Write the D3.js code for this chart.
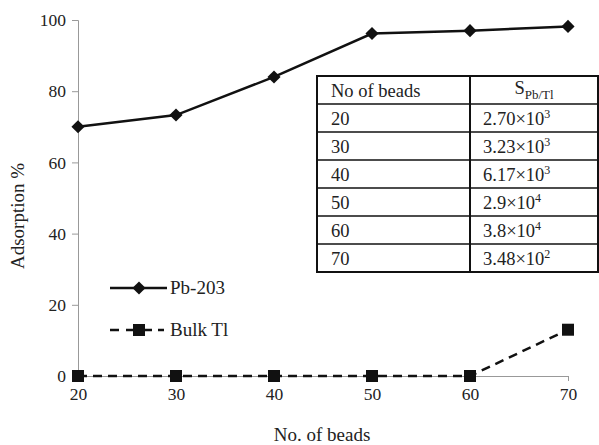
<!DOCTYPE html>
<html>
<head>
<meta charset="utf-8">
<script src="https://cdn.jsdelivr.net/npm/d3@7"></script>
<style>
  body { margin: 0; background: #fff; }
  svg text { font-family: 'Liberation Serif', 'Times New Roman', Times, serif; }
</style>
</head>
<body>
<svg id="chart" width="599" height="445"></svg>
<script>
// data
const beads = [20, 30, 40, 50, 60, 70];
const pb203 = [70, 73.3, 84, 96.2, 97, 98.2];
const bulkTl = [0, 0, 0, 0, 0, 13];
const yTicks = [0, 20, 40, 60, 80, 100];
const tableBeads = ["20", "30", "40", "50", "60", "70"];
const tableMant = ["2.70", "3.23", "6.17", "2.9", "3.8", "3.48"];
const tableExp = ["3", "3", "3", "4", "4", "2"];

const FONT = "'Liberation Serif', 'Times New Roman', serif";
const svg = d3.select("#chart").attr("font-family", FONT);
const marginLeft = 78, marginTop = 20, plotW = 490, plotH = 356;

const x = d3.scaleLinear().domain([20, 70]).range([0, plotW]);
const y = d3.scaleLinear().domain([0, 100]).range([plotH, 0]);

const g = svg.append("g").attr("transform", "translate(" + marginLeft + "," + marginTop + ")");

// axes
const yAxis = g.append("g").call(d3.axisLeft(y).tickValues(yTicks).tickSize(6).tickPadding(6));
const xAxis = g.append("g").attr("transform", "translate(0," + plotH + ")")
  .call(d3.axisBottom(x).tickValues(beads).tickSize(5).tickPadding(7));
[xAxis, yAxis].forEach(ax => {
  ax.attr("font-family", FONT).attr("font-size", 17.5);
  ax.selectAll("path, line").attr("stroke", "#999");
  ax.selectAll("text").attr("fill", "#222");
});

// axis titles
svg.append("text")
  .attr("x", marginLeft + plotW / 2 - 1).attr("y", 441)
  .attr("text-anchor", "middle").attr("font-size", 19).attr("fill", "#222")
  .text("No. of beads");
svg.append("text")
  .attr("transform", "translate(24," + (marginTop + plotH / 2 + 18) + ")rotate(-90)")
  .attr("text-anchor", "middle").attr("font-size", 19).attr("fill", "#222")
  .text("Adsorption %");

// lines
const line = d3.line().x((d, i) => x(beads[i])).y(d => y(d));
g.append("path").datum(pb203).attr("d", line)
  .attr("fill", "none").attr("stroke", "#111").attr("stroke-width", 2.5);
g.append("path").datum(bulkTl).attr("d", line)
  .attr("fill", "none").attr("stroke", "#111").attr("stroke-width", 2.5)
  .attr("stroke-dasharray", "9,6");

// markers
const diamond = d3.symbol().type(d3.symbolDiamond2).size(110);
g.selectAll(".pbpt").data(pb203).enter().append("path")
  .attr("transform", (d, i) => "translate(" + x(beads[i]) + "," + y(d) + ")")
  .attr("d", diamond).attr("fill", "#111");
g.selectAll(".tlpt").data(bulkTl).enter().append("rect")
  .attr("x", (d, i) => x(beads[i]) - 6).attr("y", d => y(d) - 6)
  .attr("width", 12).attr("height", 12).attr("fill", "#111");

// legend
const leg = svg.append("g");
leg.append("line").attr("x1", 110).attr("x2", 167).attr("y1", 288).attr("y2", 288)
  .attr("stroke", "#111").attr("stroke-width", 2.5);
leg.append("path").attr("transform", "translate(139,288)").attr("d", diamond).attr("fill", "#111");
leg.append("text").attr("x", 170).attr("y", 294).attr("font-size", 19).attr("fill", "#222").text("Pb-203");
leg.append("line").attr("x1", 110).attr("x2", 167).attr("y1", 330).attr("y2", 330)
  .attr("stroke", "#111").attr("stroke-width", 2.5).attr("stroke-dasharray", "9,7,26,6,6,5,4");
leg.append("rect").attr("x", 133).attr("y", 324).attr("width", 12).attr("height", 12).attr("fill", "#111");
leg.append("text").attr("x", 170).attr("y", 336).attr("font-size", 19).attr("fill", "#222").text("Bulk Tl");

// inset table
const tx0 = 317, tx1 = 470, tx2 = 598, ty0 = 76, rowH = 28;
const tbl = svg.append("g");
tbl.append("rect").attr("x", tx0).attr("y", ty0).attr("width", tx2 - tx0).attr("height", rowH * 7)
  .attr("fill", "#fff").attr("stroke", "#111").attr("stroke-width", 2);
tbl.append("line").attr("x1", tx1).attr("x2", tx1).attr("y1", ty0).attr("y2", ty0 + rowH * 7)
  .attr("stroke", "#111").attr("stroke-width", 2);
for (let i = 1; i < 7; i++) {
  tbl.append("line").attr("x1", tx0).attr("x2", tx2).attr("y1", ty0 + rowH * i).attr("y2", ty0 + rowH * i)
    .attr("stroke", "#111").attr("stroke-width", 1.5);
}
tbl.append("text").attr("x", tx0 + 14).attr("y", ty0 + 21).attr("font-size", 18.5).attr("fill", "#222")
  .text("No of beads");
const hdr = tbl.append("text").attr("x", 534).attr("y", ty0 + 18).attr("text-anchor", "middle")
  .attr("font-size", 18.5).attr("fill", "#222");
hdr.append("tspan").text("S");
hdr.append("tspan").attr("dy", 5).attr("font-size", 13).text("Pb/Tl");
tableBeads.forEach((b, i) => {
  const yy = ty0 + rowH * (i + 1) + 21;
  tbl.append("text").attr("x", tx0 + 14).attr("y", yy).attr("font-size", 18.5).attr("fill", "#222").text(b);
  const t = tbl.append("text").attr("x", tx1 + 13).attr("y", yy).attr("font-size", 18.5).attr("fill", "#222");
  t.append("tspan").text(tableMant[i] + "×10");
  t.append("tspan").attr("dy", -7).attr("font-size", 12).text(tableExp[i]);
});
</script>
</body>
</html>
